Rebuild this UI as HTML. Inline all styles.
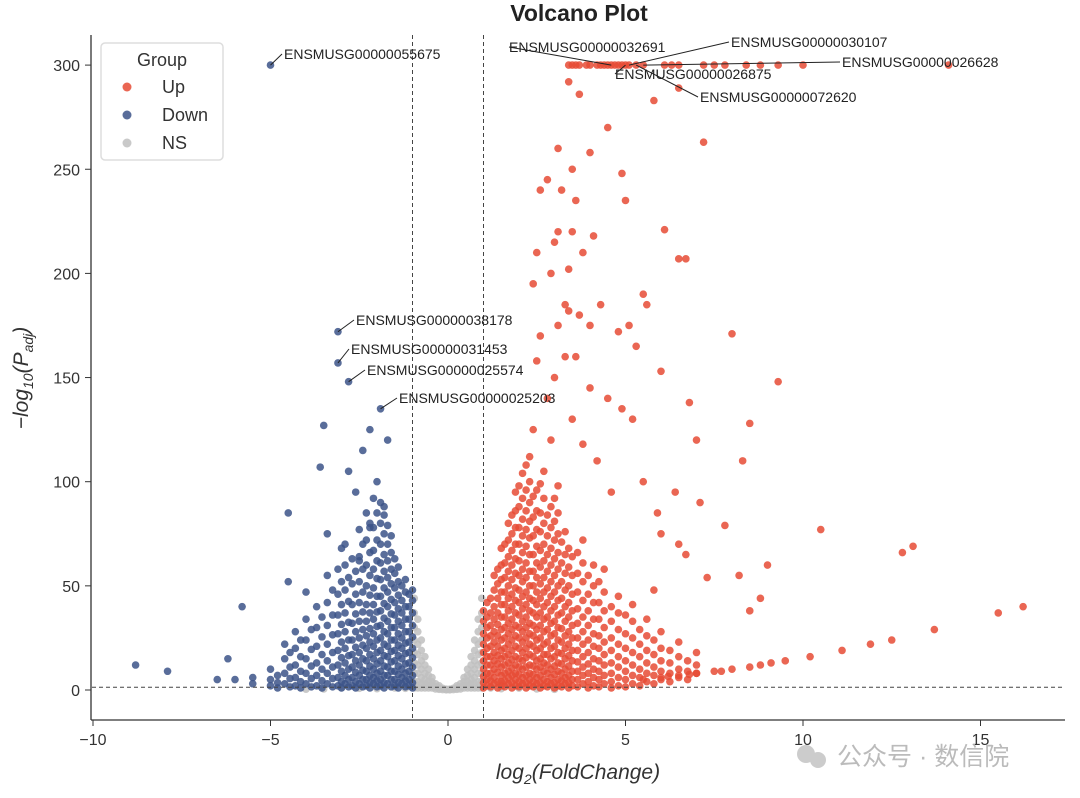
<!DOCTYPE html>
<html><head><meta charset="utf-8"><style>
body{margin:0;background:#fff}
svg{display:block;font-family:"Liberation Sans","DejaVu Sans",sans-serif}
</style></head><body>
<svg id="chart" width="1080" height="798" viewBox="0 0 1080 798" xmlns="http://www.w3.org/2000/svg">
<g id="points"></g>
<g id="axes"></g>
<g id="labels"></g>
<text x="579" y="21" text-anchor="middle" font-size="23" font-weight="bold" fill="#222">Volcano Plot</text>
<text x="578" y="779" text-anchor="middle" font-size="21" font-style="italic" fill="#333">log<tspan font-size="14" dy="5">2</tspan><tspan dy="-5">(FoldChange)</tspan></text>
<text transform="translate(28,378) rotate(-90)" text-anchor="middle" font-size="21" font-style="italic" fill="#333">−log<tspan font-size="14" dy="5">10</tspan><tspan dy="-5">(P</tspan><tspan font-size="14" dy="5">adj</tspan><tspan dy="-5">)</tspan></text>
<g>
<rect x="101" y="43" width="122" height="117" rx="4" fill="#fff" stroke="#ddd" stroke-width="1.5"/>
<text x="162" y="66" text-anchor="middle" font-size="18" fill="#333">Group</text>
<g><circle cx="127" cy="87" r="4.5" fill="#e64b35" opacity="0.85"/><text x="162" y="93" font-size="18" fill="#333">Up</text></g>
<g><circle cx="127" cy="115" r="4.5" fill="#3c5488" opacity="0.85"/><text x="162" y="121" font-size="18" fill="#333">Down</text></g>
<g><circle cx="127" cy="143" r="4.5" fill="#c0c0c0" opacity="0.85"/><text x="162" y="149" font-size="18" fill="#333">NS</text></g>
</g>
<g>
<circle cx="806" cy="754" r="9" fill="#ccc"/><circle cx="818" cy="760" r="8" fill="#ccc"/>
<text x="837" y="765" font-size="25" fill="#bbb" font-family="'Liberation Sans','Noto Sans CJK SC',sans-serif">公众号 · 数信院</text>
</g>
</svg>
<script>
const xTicks=[-10,-5,0,5,10,15];
const yTicks=[0,50,100,150,200,250,300];
const upTop=[3.4,3.5,3.6,3.7,3.9,4.0,4.2,4.3,4.4,4.5,4.6,4.7,4.8,4.9,5.0,5.1,5.3,5.5,6.1,6.3,6.5,7.2,7.5,7.8,8.4,8.8,9.3,10.0,14.1];
const upExtra=[[3.4,292],[3.7,286],[4.5,270],[5.8,283],[6.5,289],[7.2,263],[3.1,260],[3.5,250],[4.0,258],[3.2,240],[3.6,235],[4.9,248],[5.0,235],[2.6,240],[2.8,245],[3.5,220],[3.1,220],[2.5,210],[3.0,215],[6.1,221],[6.5,207],[6.7,207],[3.8,210],[4.1,218],[2.9,200],[3.4,202],[2.4,195],[3.3,185],[3.4,182],[4.3,185],[5.5,190],[5.6,185],[3.7,180],[4.0,175],[5.1,175],[5.3,165],[4.8,172],[2.6,170],[3.1,175],[8.0,171],[3.3,160],[3.6,160],[2.5,158],[6.0,153],[4.0,145],[4.5,140],[5.2,130],[4.9,135],[6.8,138],[7.0,120],[8.5,128],[9.3,148],[8.3,110],[3.0,150],[2.8,140],[3.5,130],[2.4,125],[2.9,120],[3.8,118],[4.2,110],[5.5,100],[4.6,95],[6.4,95],[7.1,90],[5.9,85],[6.0,75],[7.8,79],[10.5,77],[6.7,65],[6.5,70],[13.1,69],[12.8,66],[9.0,60],[8.2,55],[7.3,54],[5.8,48],[8.8,44],[8.5,38],[15.5,37],[16.2,40],[13.7,29],[12.5,24],[11.9,22],[11.1,19],[10.2,16],[9.5,14],[9.1,13],[8.8,12],[8.5,11],[8.0,10],[7.5,9],[7.0,8],[6.5,7],[6.0,6],[5.5,5],[7.7,9],[6.8,7.5],[6.2,6.5]];
const upCols=[[1.1,[2,5,8,12,16,20,25,30,35,42]],[1.3,[3,6,10,14,18,23,28,34,40,48,55]],[1.5,[2,4,7,11,15,19,24,29,35,41,47,53,60,68]],[1.7,[3,6,9,13,17,22,27,32,38,44,50,57,64,72,80]],[1.9,[2,5,8,12,16,21,26,31,37,43,49,56,63,70,78,86,95]],[2.1,[3,6,10,14,18,23,28,33,39,45,52,58,66,74,82,92,104]],[2.3,[2,5,8,12,17,22,27,32,38,44,50,57,65,73,81,90,100,112]],[2.5,[3,6,10,14,19,24,29,35,41,47,54,61,69,77,86,96]],[2.7,[2,5,9,13,17,22,28,34,40,47,54,62,70,80,92,105]],[2.9,[3,6,10,15,20,26,32,38,45,52,60,68,78,88]],[3.1,[2,5,9,13,18,24,30,36,43,50,58,66,75,85,98]],[3.3,[3,6,10,15,20,26,33,40,48,56,65,76]],[3.5,[2,5,9,14,19,25,31,38,46,55,64]],[3.8,[3,7,11,16,22,28,35,43,52,61,72]],[4.1,[2,6,10,15,21,27,34,42,50,60]],[4.4,[3,7,12,17,23,30,38,47,58]],[4.8,[2,6,11,16,22,29,37,45]],[5.2,[3,7,12,18,25,33,41]],[5.6,[4,8,13,19,26,34]],[6.0,[5,9,14,20,28]],[6.5,[6,10,16,23]],[7.0,[8,12,18]]];
const upCols2=[[1.0,[1,3.5,6.5,10,14,18,22,27,33,38]],[1.2,[1.5,4.5,8,12,16,21,26,31,37,44]],[1.4,[1,4,8.5,12.5,16.5,21,26,31.5,37,44,51,58]],[1.6,[1.5,4.5,8,12,16,20,25,30,35,41,47,54,61,70]],[1.8,[1,3.5,7,10.5,14.5,19,24,29,34,40,46,53,60,67,75,84]],[2.0,[1.5,4,7.5,11,15,20,25,30,36,42,48,55,62,70,78,88,98]],[2.2,[1,3.5,7,11,15.5,20,25,30,35,41,47,54,61,69,77,86,96,108]],[2.4,[1.5,4,7.5,11.5,16,21,26,31,37,43,50,57,65,74,83,93]],[2.6,[1,3.5,7,11,15,20,25,31,37,44,51,59,67,76,85,99]],[2.8,[1.5,4,8,12,17,23,29,35,42,49,57,65,74,84]],[3.0,[1,3.5,7.5,11.5,16,21,27,33,40,47,55,63,72,81,92]],[3.2,[1.5,4.5,8,12.5,17.5,23,29.5,37,44,52,61,71]],[3.4,[1,3.5,7,11.5,16.5,22,28,35,42,50,59,68]],[3.65,[1.5,5,9,13.5,19,25,32,39,47,56,66]],[3.95,[1,4,8,12.5,18,24,31,38,46,55]],[4.25,[1.5,5,9,14,20,26,34,42,52]],[4.6,[1,4,8,13,19,25,33,40]],[5.0,[1.5,5,9,14,20,27,36]],[5.4,[2,6,10,16,22,29]],[5.8,[3,7,11,17,24]],[6.25,[4,8,13,19]],[6.75,[5,9,14]]];
const downCols=[[-1.1,[2,5,9,13,18,23,28,34,40,46]],[-1.3,[3,6,10,15,20,25,31,37,43,50]],[-1.5,[2,5,9,14,19,24,30,36,42,49,56,63]],[-1.7,[3,7,11,16,21,27,33,40,47,54,62,70,79]],[-1.9,[2,5,9,14,19,25,31,38,45,53,61,70,80,90]],[-2.1,[3,6,10,15,21,27,34,41,49,58,67,78,92]],[-2.3,[2,5,9,14,20,26,33,41,50,60,72,85]],[-2.5,[3,7,12,18,25,33,42,52,64,77]],[-2.7,[2,6,11,17,24,32,41,51,63]],[-2.9,[3,7,13,20,28,37,48,60,70]],[-3.1,[2,6,12,19,27,36,46,58]],[-3.4,[3,8,14,22,31,42,55]],[-3.7,[2,7,13,21,30,40]],[-4.0,[3,8,15,24,34]],[-4.3,[2,6,12,20,28]],[-4.6,[3,8,15,22]],[-5.0,[2,5,10]],[-5.5,[3,6]]];
const downCols2=[[-1.0,[1,3.5,7,11,15.5,20,25.5,31,37,43,48]],[-1.2,[1.5,4.5,8,12.5,17.5,22.5,28,34,40,47,53]],[-1.4,[1,3.5,7.5,11.5,16.5,21.5,27,33,39,45.5,52,59]],[-1.6,[1.5,5,9,13.5,18.5,24,30,36.5,43.5,51,58,66,74]],[-1.8,[1,3.5,7,11.5,16.5,22,28,34.5,41.5,49,57,65,75,84]],[-2.0,[1.5,4.5,8,12.5,18,24,30.5,37.5,45,53.5,62,72,85]],[-2.2,[1,3.5,7,11.5,17,23,29.5,37,45.5,55,66,78]],[-2.4,[1.5,5,9.5,15,21.5,29,37.5,47,58,70]],[-2.6,[1,4,8.5,14,20.5,28,36.5,46,57]],[-2.8,[1.5,5,10,16.5,24,32.5,42.5,54]],[-3.0,[1,4,9,15.5,23,31.5,41,52]],[-3.25,[1.5,5.5,11,18,26.5,36,48]],[-3.55,[1,4.5,10,17,25.5,35]],[-3.85,[1.5,5.5,11.5,19.5,29]],[-4.15,[1,4,9,16,24]],[-4.45,[1.5,5.5,11,18]],[-4.8,[1,3.5,7]]];
const downExtra=[[-5.0,300],[-3.1,172],[-3.1,157],[-2.8,148],[-1.9,135],[-3.5,127],[-2.2,125],[-2.4,115],[-2.8,105],[-3.6,107],[-2.6,95],[-1.7,120],[-4.5,85],[-3.4,75],[-2.0,100],[-5.8,40],[-6.2,15],[-8.8,12],[-7.9,9],[-6.5,5],[-6.0,5],[-4.5,52],[-4.0,47],[-2.5,62],[-1.8,88],[-2.2,80],[-3.0,68]];
const nsCols=[[-0.95,[1,4,8,13,18,24,30,37,44]],[-0.85,[1,4,8,12,17,22,28,34]],[-0.75,[1,3,6,10,14,19,24]],[-0.65,[1,3,5,8,12,16]],[-0.55,[1,2,4,7,10]],[-0.45,[1,2,4,6]],[-0.35,[0.5,1.5,3]],[-0.25,[0.3,1,2]],[-0.15,[0.2,0.8]],[-0.05,[0.1,0.4]],[0.05,[0.1,0.4]],[0.15,[0.2,0.8]],[0.25,[0.3,1,2]],[0.35,[0.5,1.5,3]],[0.45,[1,2,4,6]],[0.55,[1,2,4,7,10]],[0.65,[1,3,5,8,12,16]],[0.75,[1,3,6,10,14,19,24]],[0.85,[1,4,8,12,17,22,28,34]],[0.95,[1,4,8,13,18,24,30,37,44]]];
const nsExtra=[[-3.5,0.5],[-2.5,0.8],[-1.5,1],[-2,0.6],[-3,1.1],[-4,0.4],[1.5,0.6],[2,0.9],[2.5,0.5],[3,0.3],[1.2,1],[-1.2,0.8]];
const genes=[["ENSMUSG00000055675",-5.0,300,284,59],["ENSMUSG00000038178",-3.1,172,356,325],["ENSMUSG00000031453",-3.1,157,351,354],["ENSMUSG00000025574",-2.8,148,367,375],["ENSMUSG00000025203",-1.9,135,399,403],["ENSMUSG00000032691",4.6,300,509,52],["ENSMUSG00000030107",5.1,300,731,47],["ENSMUSG00000026628",5.5,300,842,67],["ENSMUSG00000026875",5.0,300,615,79],["ENSMUSG00000072620",5.3,300,700,102]];

const X=v=>448+v*35.5, Y=v=>690-v*2.083;
const NS='http://www.w3.org/2000/svg';
const pts=document.getElementById('points'), ax=document.getElementById('axes'), lb=document.getElementById('labels');
function mk(tag,attrs,parent){const e=document.createElementNS(NS,tag);for(const k in attrs)e.setAttribute(k,attrs[k]);parent.appendChild(e);return e;}
function dot(x,y,color,name){const c=mk('circle',{cx:X(x),cy:Y(y),r:3.8,fill:color,'fill-opacity':0.85},pts);

}
nsCols.forEach(([x,ys])=>ys.forEach(y=>dot(x,y,'#c0c0c0','point-ns')));
nsExtra.forEach(([x,y])=>dot(x,y,'#c0c0c0','point-ns'));
downCols.forEach(([x,ys])=>ys.forEach(y=>dot(x,y,'#3c5488','point-down')));
downCols2.forEach(([x,ys])=>ys.forEach(y=>dot(x,y,'#3c5488','point-down')));
downExtra.forEach(([x,y])=>dot(x,y,'#3c5488','point-down'));
upCols.forEach(([x,ys])=>ys.forEach(y=>dot(x,y,'#e64b35','point-up')));
upCols2.forEach(([x,ys])=>ys.forEach(y=>dot(x,y,'#e64b35','point-up')));
upExtra.forEach(([x,y])=>dot(x,y,'#e64b35','point-up'));
upTop.forEach(x=>dot(x,300,'#e64b35','point-up'));
let l=mk('line',{x1:X(-1),x2:X(-1),y1:35,y2:720,stroke:'#444','stroke-dasharray':'4,3','stroke-width':1},ax);

l=mk('line',{x1:X(1),x2:X(1),y1:35,y2:720,stroke:'#444','stroke-dasharray':'4,3','stroke-width':1},ax);

l=mk('line',{x1:92,x2:1065,y1:Y(1.3),y2:Y(1.3),stroke:'#444','stroke-dasharray':'4,3','stroke-width':1},ax);

mk('line',{x1:91,x2:91,y1:35,y2:720,stroke:'#333','stroke-width':1.3},ax);
mk('line',{x1:91,x2:1065,y1:720,y2:720,stroke:'#333','stroke-width':1.3},ax);
xTicks.forEach(t=>{mk('line',{x1:X(t),x2:X(t),y1:720,y2:726,stroke:'#333'},ax);
const tx=mk('text',{x:X(t),y:745,'text-anchor':'middle','font-size':16,fill:'#333'},ax);tx.textContent=t<0?'−'+(-t):t;
});
yTicks.forEach(t=>{mk('line',{x1:85,x2:91,y1:Y(t),y2:Y(t),stroke:'#333'},ax);
const tx=mk('text',{x:80,y:Y(t)+6,'text-anchor':'end','font-size':16,fill:'#333'},ax);tx.textContent=t;
});
genes.forEach(([g,x,y,tx,ty])=>{
mk('line',{x1:tx+(tx>X(x)?-2:0),y1:ty-5,x2:X(x),y2:Y(y),stroke:'#222','stroke-width':1},lb);
const t=mk('text',{x:tx,y:ty,'font-size':14,fill:'#222'},lb);t.textContent=g;

});
</script>
</body></html>
